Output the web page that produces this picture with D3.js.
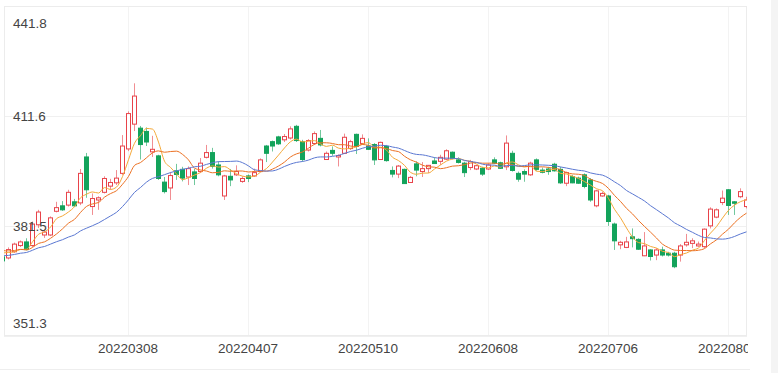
<!DOCTYPE html>
<html>
<head>
<meta charset="utf-8">
<script src="https://cdn.jsdelivr.net/npm/d3@7"></script>
<style>
  body { margin: 0; background: #fff; }
  svg { display: block; font-family: "Liberation Sans", Arial, sans-serif; }
</style>
</head>
<body>
<svg id="chart" width="778" height="373"></svg>
<script>
var dates = [
  "20220207","20220208","20220209","20220210","20220211","20220214","20220215","20220216","20220217","20220218",
  "20220221","20220222","20220223","20220224","20220225","20220228","20220301","20220302","20220303","20220304",
  "20220307","20220308","20220309","20220310","20220311","20220314","20220315","20220316","20220317","20220318",
  "20220321","20220322","20220323","20220324","20220325","20220328","20220329","20220330","20220331","20220401",
  "20220406","20220407","20220408","20220411","20220412","20220413","20220414","20220415","20220418","20220419",
  "20220420","20220421","20220422","20220425","20220426","20220427","20220428","20220429","20220505","20220506",
  "20220509","20220510","20220511","20220512","20220513","20220516","20220517","20220518","20220519","20220520",
  "20220523","20220524","20220525","20220526","20220527","20220530","20220531","20220601","20220602","20220606",
  "20220607","20220608","20220609","20220610","20220613","20220614","20220615","20220616","20220617","20220620",
  "20220621","20220622","20220623","20220624","20220627","20220628","20220629","20220630","20220701","20220704",
  "20220705","20220706","20220707","20220708","20220711","20220712","20220713","20220714","20220715","20220718",
  "20220719","20220720","20220721","20220722","20220725","20220726","20220727","20220728","20220729","20220801",
  "20220802","20220803","20220804","20220805","20220808"
];

var opens = [
  373.0,372.7,374.4,376.1,377.1,376.1,381.8,379.0,379.0,385.5,
  387.0,387.2,388.1,387.8,400.4,386.8,388.6,390.7,392.4,393.3,
  395.9,402.6,409.4,408.3,407.4,401.8,400.7,393.5,391.9,396.6,
  397.0,394.9,396.3,396.4,400.3,401.6,398.2,389.7,395.1,395.5,
  393.7,395.2,395.2,396.4,403.4,404.6,405.9,405.1,405.6,408.8,
  404.6,402.3,404.1,405.5,399.7,402.2,400.4,401.4,402.7,406.6,
  404.1,403.4,403.8,399.7,403.3,396.7,395.7,397.0,393.4,398.5,
  396.4,397.2,399.3,399.2,399.8,401.7,399.6,398.7,397.5,397.1,
  397.3,397.1,399.6,398.8,397.7,401.4,395.9,396.4,395.5,399.6,
  396.8,397.1,398.4,397.0,393.2,395.0,394.6,395.5,394.1,387.0,
  389.7,389.7,382.0,376.3,375.6,378.5,377.8,373.3,374.9,373.5,
  374.9,374.0,374.0,373.5,376.3,376.7,376.0,375.8,381.5,383.9,
  387.9,391.4,388.1,389.5,386.8
];
var closes = [
  371.9,375.0,376.5,377.1,375.0,382.0,385.3,379.8,383.7,386.5,
  385.9,390.7,387.0,395.9,391.4,389.0,389.2,394.5,393.4,394.6,
  403.4,412.3,417.1,403.8,404.5,402.5,394.5,390.9,395.3,395.6,
  394.6,397.2,394.5,398.7,401.6,397.8,395.5,395.2,394.1,396.4,
  394.5,394.5,396.1,399.6,401.4,403.4,404.0,406.0,408.1,404.9,
  399.7,404.9,406.8,403.7,401.4,401.4,400.8,405.8,404.6,403.3,
  405.5,402.5,399.6,404.4,399.4,395.7,397.9,393.1,394.8,396.8,
  397.2,398.1,398.6,400.3,402.1,400.0,398.9,396.1,399.1,398.0,
  395.7,398.2,398.7,397.3,404.2,396.7,394.3,395.7,398.7,397.0,
  396.2,396.4,396.6,393.3,396.1,393.3,393.2,392.3,388.6,391.1,
  390.4,382.7,377.4,377.0,377.1,378.0,375.1,376.0,373.1,374.9,
  373.5,373.5,370.3,376.0,377.0,377.4,376.5,380.6,386.1,385.9,
  389.1,387.1,387.7,390.9,388.6
];
var highs = [
  373.5,375.6,376.9,377.5,378.1,382.7,385.9,380.5,384.1,388.1,
  388.3,391.4,388.9,397.1,401.5,390.4,389.6,395.1,394.4,396.8,
  406.4,412.9,420.6,408.9,408.5,406.2,401.0,394.9,396.3,398.5,
  397.7,397.8,397.1,400.1,403.7,402.9,399.2,395.5,397.1,398.1,
  395.1,395.6,397.2,400.0,403.7,404.9,406.2,406.7,408.8,409.2,
  405.1,405.3,407.4,407.8,401.9,403.3,401.1,406.8,405.1,406.8,
  406.6,405.5,404.2,404.6,403.7,397.8,398.2,397.2,395.2,399.2,
  399.0,398.2,400.3,401.0,402.5,401.9,400.3,399.1,399.6,398.2,
  397.7,398.7,400.3,399.1,406.3,402.1,396.4,397.0,399.1,400.0,
  397.5,397.7,398.8,397.7,396.4,395.5,395.0,395.9,394.6,391.4,
  390.9,390.0,382.4,377.4,378.5,380.8,378.1,379.8,375.1,375.4,
  375.8,374.4,374.4,376.5,379.3,378.1,377.2,380.8,386.6,386.3,
  391.2,391.6,388.3,391.8,389.5
];
var lows = [
  371.3,372.3,374.1,375.7,374.8,375.7,380.9,378.2,378.7,385.2,
  385.6,386.8,386.7,387.2,389.2,384.5,385.9,390.4,391.4,392.7,
  395.5,402.0,407.5,399.7,403.4,400.4,394.1,390.4,388.6,394.1,
  393.7,392.7,392.7,396.0,400.0,397.2,395.1,388.6,392.4,395.2,
  393.3,393.5,394.9,396.3,399.0,401.9,403.7,404.5,405.2,404.5,
  399.1,401.9,403.7,403.3,399.6,400.7,397.8,401.2,402.3,401.2,
  403.7,402.3,398.2,399.6,399.1,394.8,394.6,393.0,393.3,395.1,
  394.9,396.0,398.5,398.2,399.6,399.7,398.6,394.9,396.8,396.8,
  395.2,396.8,398.5,397.1,396.8,396.4,393.6,393.6,395.2,396.6,
  395.9,395.5,396.4,393.0,392.4,393.2,393.0,391.8,388.1,386.6,
  389.5,381.5,374.9,375.1,375.4,375.6,374.9,373.2,372.0,372.1,
  373.1,373.1,369.9,371.7,375.8,375.4,375.8,375.4,380.8,383.6,
  387.2,384.5,384.5,389.1,386.3
];
// closes before the visible window, estimated from where the MA lines enter
var closesBefore = [
  372.8,371.5,370.2,371.0,369.8,371.9,372.6,370.6,373.4,374.8,
  376.1,375.3,374.0,376.5,375.2,374.3,375.6,373.9,374.6
];

var maDays = [5, 10, 20];
var maColors = ["#f5a93a", "#ec7224", "#5b78d2"];
var yTicks = [351.3, 381.5, 411.6, 441.8];
var xTickDates = ["20220308", "20220407", "20220510", "20220608", "20220706", "20220803"];

var upColor = "#e8434a", downColor = "#13a35b";

var plotLeft = 4, plotTop = 6, plotRight = 747, plotBottom = 336;

var svg = d3.select("#chart");

var x = d3.scalePoint()
  .domain(dates)
  .range([2, 746]);

var y = d3.scaleLinear()
  .domain([yTicks[0], yTicks[yTicks.length - 1]])
  .range([plotBottom, plotTop]);

function calculateMA(n) {
  var all = closesBefore.concat(closes);
  return closes.map(function(c, i) {
    var k = i + closesBefore.length, s = 0;
    for (var m = 0; m < n; m++) s += all[k - m];
    return s / n;
  });
}

svg.append("rect")
  .attr("x", 771).attr("y", 0)
  .attr("width", 7).attr("height", 373)
  .attr("fill", "#f4f4f4");

svg.append("line")
  .attr("x1", 0).attr("x2", 750)
  .attr("y1", 369.5).attr("y2", 369.5)
  .attr("stroke", "#eeeeee");

// grid
svg.append("g")
  .selectAll("line")
  .data(yTicks)
  .enter()
  .append("line")
  .attr("x1", plotLeft).attr("x2", plotRight)
  .attr("y1", function(d) { return Math.round(y(d)) + 0.5; })
  .attr("y2", function(d) { return Math.round(y(d)) + 0.5; })
  .attr("stroke", "#f0f0f0");

svg.append("g")
  .selectAll("line")
  .data(xTickDates)
  .enter()
  .append("line")
  .attr("x1", function(d) { return x(d) + 0.5; })
  .attr("x2", function(d) { return x(d) + 0.5; })
  .attr("y1", plotTop).attr("y2", plotBottom)
  .attr("stroke", "#f3f3f3");

svg.append("rect")
  .attr("x", plotLeft + 0.5).attr("y", plotTop + 0.5)
  .attr("width", plotRight - plotLeft - 1).attr("height", plotBottom - plotTop - 1)
  .attr("fill", "none")
  .attr("stroke", "#ececec");

svg.append("clipPath")
  .attr("id", "plot")
  .append("rect")
  .attr("x", plotLeft).attr("y", plotTop)
  .attr("width", plotRight - plotLeft).attr("height", plotBottom - plotTop);

// the page cuts the last date label at the chart's right edge
svg.append("clipPath")
  .attr("id", "page")
  .append("rect")
  .attr("x", 0).attr("y", 0)
  .attr("width", 748).attr("height", 373);

var plot = svg.append("g").attr("clip-path", "url(#plot)");

var candles = plot.selectAll("g.candle")
  .data(dates)
  .enter()
  .append("g")
  .attr("class", "candle");

candles.append("line")
  .attr("x1", function(d) { return x(d) + 0.5; })
  .attr("x2", function(d) { return x(d) + 0.5; })
  .attr("y1", function(d, i) { return y(highs[i]); })
  .attr("y2", function(d, i) { return y(lows[i]); })
  .attr("stroke", function(d, i) { return closes[i] >= opens[i] ? upColor : downColor; })
  .attr("stroke-opacity", 0.6);

candles.append("rect")
  .attr("x", function(d) { return x(d) - 1.5; })
  .attr("width", 4)
  .attr("y", function(d, i) { return y(Math.max(opens[i], closes[i])); })
  .attr("height", function(d, i) {
    return Math.max(1, Math.abs(y(opens[i]) - y(closes[i])));
  })
  .attr("fill", function(d, i) { return closes[i] >= opens[i] ? "#fff" : downColor; })
  .attr("stroke", function(d, i) { return closes[i] >= opens[i] ? upColor : downColor; })
  .attr("stroke-width", 1);

var line = d3.line()
  .x(function(d, i) { return x(dates[i]) + 0.5; })
  .y(function(d) { return y(d); })
  .curve(d3.curveMonotoneX);

maDays.forEach(function(n, k) {
  plot.append("path")
    .datum(calculateMA(n))
    .attr("d", line)
    .attr("fill", "none")
    .attr("stroke", maColors[k])
    .attr("stroke-width", 1);
});

// labels
svg.append("g")
  .selectAll("text")
  .data(yTicks)
  .enter()
  .append("text")
  .attr("x", 13)
  .attr("y", function(d, i) {
    if (i === yTicks.length - 1) return y(d) + 22;
    if (i === 0) return y(d) - 8;
    return y(d) + 5;
  })
  .attr("font-size", "13.5px")
  .attr("fill", "#444")
  .text(function(d) { return d3.format(".1f")(d); });

svg.append("g")
  .attr("clip-path", "url(#page)")
  .selectAll("text")
  .data(xTickDates)
  .enter()
  .append("text")
  .attr("x", function(d) { return x(d); })
  .attr("y", 353)
  .attr("text-anchor", "middle")
  .attr("font-size", "13.5px")
  .attr("fill", "#444")
  .text(function(d) { return d; });
</script>
</body>
</html>
